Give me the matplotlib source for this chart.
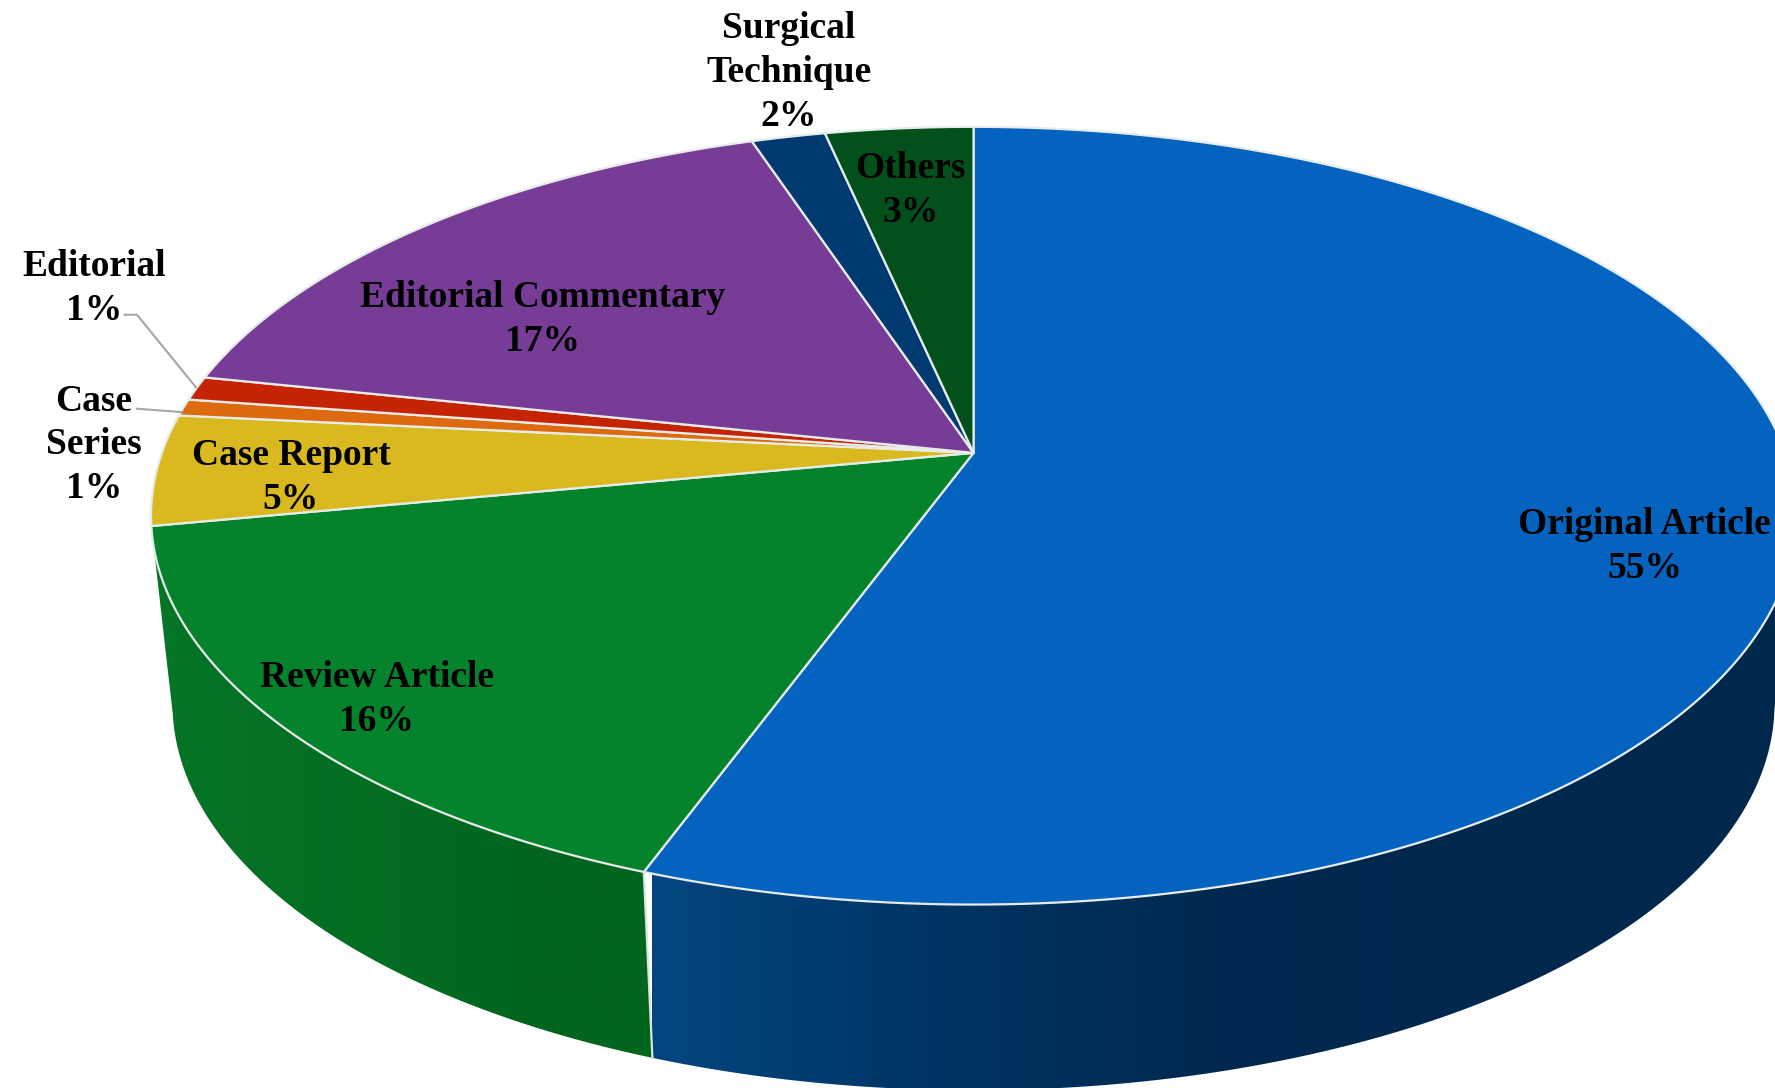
# 3D looking pie of article types, drawn by hand since matplotlib has no perspective pie

import numpy as np
import matplotlib.pyplot as plt
from matplotlib.colors import LinearSegmentedColormap
from matplotlib.patches import Polygon

names = ['Original Article', 'Review Article', 'Case Report', 'Case\nSeries', 'Editorial',
         'Editorial Commentary', 'Surgical\nTechnique', 'Others']
shown_pct = [55, 16, 5, 1, 1, 17, 2, 3]
# slice sizes, a bit finer than the printed labels
slice_pct = [55.6, 16.4, 4.6, 0.7, 1.0, 16.6, 1.7, 3.4]

colors = ['#0363BE', '#04822C', '#D9B91F', '#DE6A10', '#C42403', '#773D96', '#003A70', '#04501C']

# geometry in reference pixels (scaled view 1568 x 961)
W, H = 1568, 961
cx, cy = 860, 400       # apex of the pie
A, B, K = 717, 334.5, 0.1616
top_c = 455.5
top_rx, top_ry = 727, 343.5
bot_c = 622
bot_rx, bot_ry = 708, 341

def rim(t):
    # t in degrees clockwise from 12 o'clock, projected so the apex sits off the ellipse centre
    a = np.radians(t)
    d = 1 + K * np.cos(a)
    return cx + A * np.sin(a) / d, cy - B * np.cos(a) / d

def lower(x, y):
    return cx + (x - cx) * bot_rx / top_rx, bot_c + (y - top_c) * bot_ry / top_ry

fig = plt.figure(figsize=(17.75, 10.88), dpi=100)
ax = fig.add_axes([0, 0, 1, 1])
edges = np.concatenate([[0], np.cumsum(slice_pct)]) * 3.6

# side walls with gradient, only the front slices show one
wall_cmaps = {
    0: ['#03467F', '#003464', '#00294F', '#00274C', '#00274C'],
    1: ['#057528', '#047024', '#036C22', '#02651E', '#02651E'],
}
for i, stops in wall_cmaps.items():
    t = np.linspace(max(edges[i], 100), edges[i + 1], 200)
    x, y = rim(t)
    xb, yb = lower(x, y)
    pts = np.column_stack([np.r_[x, xb[::-1]], np.r_[y, yb[::-1]]])
    poly = Polygon(pts, closed=True, fc='none', ec='none')
    ax.add_patch(poly)
    cmap = LinearSegmentedColormap.from_list('wall', stops)
    grad = np.linspace(0, 1, 256).reshape(1, -1)
    if i == 1:
        extent = [133, 576, H, 0]
    else:
        extent = [576, 1568, H, 0]
    im = ax.imshow(grad, cmap=cmap, extent=extent, aspect='auto')
    im.set_clip_path(poly)

# seam between blue and green walls
x0, y0 = rim(edges[1])
x1, y1 = lower(x0, y0)
ax.plot([x0, x1], [y0, y1], color='#D8E4E0', lw=1.6)

# top face
for i in range(len(slice_pct)):
    t = np.linspace(edges[i], edges[i + 1], 200)
    x, y = rim(t)
    pts = np.column_stack([np.r_[cx, x], np.r_[cy, y]])
    ax.add_patch(Polygon(pts, closed=True, fc=colors[i], ec='#E6ECEA', lw=1.6, joinstyle='round'))

label_xy = [(1453, 483), (333, 618), (257, 422), (83, 393), (83, 255), (479, 282), (697, 64), (804, 168)]
for name, pct, (lx, ly) in zip(names, shown_pct, label_xy):
    ax.text(lx, ly, name + '\n' + str(pct) + '%', ha='center', va='center', fontsize=27,
            family='Liberation Serif', weight='bold', color='black', linespacing=1.33)

# leader lines for the two thin slices
ax.plot([110, 121, 173], [278, 278, 342], color='#A6A6A6', lw=1.5)
ax.plot([121, 161], [361, 364], color='#A6A6A6', lw=1.5)

ax.set_xlim(0, W)
ax.set_ylim(H, 0)
ax.axis('off')
fig.savefig('out.png', dpi=100, facecolor='white')
